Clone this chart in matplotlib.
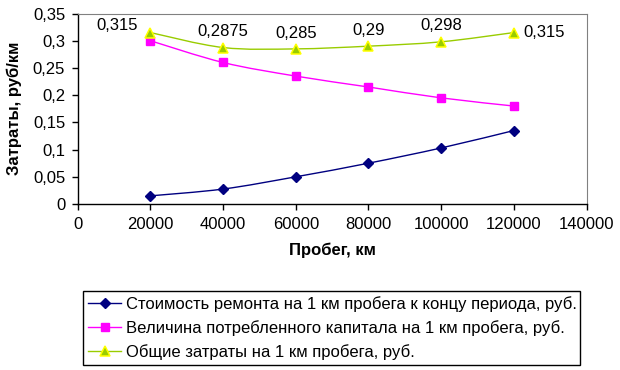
import numpy as np
import matplotlib; matplotlib.use("Agg")
import matplotlib.pyplot as plt
from matplotlib.path import Path
from matplotlib.patches import PathPatch
from matplotlib.lines import Line2D
from matplotlib.ticker import FuncFormatter, MultipleLocator

plt.rcParams["font.family"] = ["Liberation Sans", "DejaVu Sans"]

# mileage, km
mileage = [20000, 40000, 60000, 80000, 100000, 120000]
# cost per km, rub
repair = [0.015, 0.0275, 0.05, 0.075, 0.103, 0.135]
capital = [0.300, 0.260, 0.235, 0.215, 0.195, 0.180]
total = [0.315, 0.2875, 0.285, 0.29, 0.298, 0.315]
total_labels = ["0,315", "0,2875", "0,285", "0,29", "0,298", "0,315"]

names = ["Стоимость ремонта на 1 км пробега к концу периода, руб.",
         "Величина потребленного капитала на 1 км пробега, руб.",
         "Общие затраты на 1 км пробега, руб."]

FS = 12


def smooth_path(x, y):
    # Excel-style smoothed line: cubic bezier through the points
    pts = np.column_stack([x, y]).astype(float)
    n = len(pts)
    verts = [pts[0]]
    codes = [Path.MOVETO]
    for i in range(n - 1):
        p0 = pts[max(i - 1, 0)]; p1 = pts[i]; p2 = pts[i + 1]; p3 = pts[min(i + 2, n - 1)]
        verts += [p1 + (p2 - p0) / 6, p2 - (p3 - p1) / 6, p2]
        codes += [Path.CURVE4] * 3
    return Path(verts, codes)


def comma(v, pos):
    return f"{v:g}".replace(".", ",")


fig = plt.figure(figsize=(6.2, 3.7), dpi=100)
ax = fig.add_axes([0.1253, 0.4486, 0.8208, 0.5149])

series = [
    (repair, "#000080", dict(marker="D", markersize=5, markerfacecolor="#000080", markeredgecolor="#000080")),
    (capital, "#FF00FF", dict(marker="s", markersize=5.5, markerfacecolor="#FF00FF", markeredgecolor="#FF00FF")),
    (total, "#99CC00", dict(marker="^", markersize=6.5, markerfacecolor="#99CC00", markeredgecolor="#FFFF00",
                            markeredgewidth=1.1)),
]
handles = []
for vals, col, mk in series:
    ax.add_patch(PathPatch(smooth_path(mileage, vals), facecolor="none", edgecolor=col, lw=1.0, zorder=2))
    ax.plot(mileage, vals, linestyle="none", zorder=3, **mk)
    handles.append(Line2D([], [], color=col, lw=1.0, **mk))

# data labels on total series
for i, (x, y, t) in enumerate(zip(mileage, total, total_labels)):
    if i == 0:
        ax.annotate(t, (x, y), xytext=(-9, 5), textcoords="offset points", ha="right", va="center", fontsize=FS)
    elif i == len(mileage) - 1:
        ax.annotate(t, (x, y), xytext=(7, 0), textcoords="offset points", ha="left", va="center", fontsize=FS)
    else:
        ax.annotate(t, (x, y), xytext=(0, 6), textcoords="offset points", ha="center", va="bottom", fontsize=FS)

ax.set_xlim(0, 140000)
ax.set_ylim(0, 0.35)
ax.xaxis.set_major_locator(MultipleLocator(20000))
ax.yaxis.set_major_locator(MultipleLocator(0.05))
ax.yaxis.set_major_formatter(FuncFormatter(comma))
ax.tick_params(labelsize=FS, length=4, width=1, direction="out", pad=5)
ax.spines["top"].set_color("#808080")
ax.spines["right"].set_color("#808080")
for s in ("left", "bottom"):
    ax.spines[s].set_linewidth(1.0)
ax.set_xlabel("Пробег, км", fontsize=FS, fontweight="bold", labelpad=8)
ax.set_ylabel("Затраты, руб/км", fontsize=FS, fontweight="bold", labelpad=8)

leg = fig.legend(handles, names, loc="lower left", bbox_to_anchor=(0.134, 0.0135, 0.802, 0.208),
                 mode="expand", fontsize=FS, frameon=True, fancybox=False, framealpha=1,
                 edgecolor="black", handlelength=2.0, handletextpad=0.25, labelspacing=0.5,
                 borderpad=0.3, borderaxespad=0)
leg.get_frame().set_linewidth(1.0)

fig.savefig("out.png", dpi=100)
